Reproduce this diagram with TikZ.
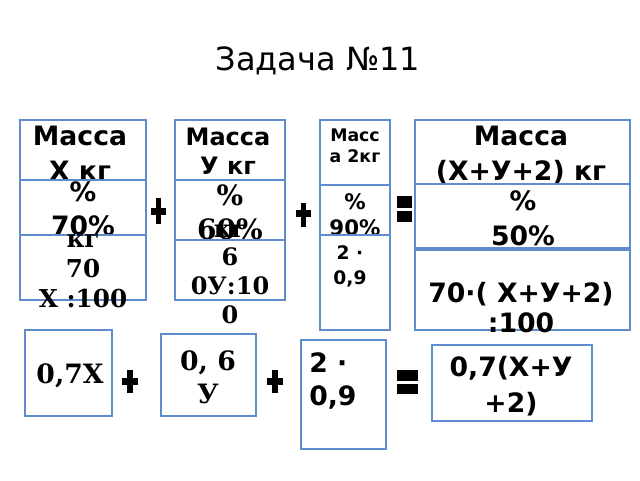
\documentclass[tikz,border=0pt]{standalone}
\usepackage{fontspec}
\setmainfont{DejaVu Sans}
\newfontfamily\serifbold{DejaVu Serif}
\usepackage{xcolor}
\usepackage{tikz}

\definecolor{boxblue}{RGB}{95,140,205}
\tikzset{
  cell/.style={draw=boxblue, line width=1.4pt, fill=white},
  txt/.style 2 args={inner sep=0pt, align=center, font=\bfseries\fontsize{#1}{#2}\selectfont},
  stxt/.style 2 args={inner sep=0pt, align=center, font=\serifbold\bfseries\fontsize{#1}{#2}\selectfont},
}

\begin{document}
\begin{tikzpicture}[x=0.75pt,y=0.75pt,yscale=-1,xscale=1]
	\useasboundingbox (0,0) rectangle (640,480);
	
	% Text Node
	\draw (318,61) node [inner sep=0pt, font=\fontsize{24}{28}\selectfont] (title) {Задача №11};
	
	%Shape: Rectangle 
	\draw [cell] (20,120) rectangle (146,180);
	% Text Node
	\draw (80,153) node [txt={20}{26}] (massx) {Масса\\ X кг};
	%Shape: Rectangle 
	\draw [cell] (20,180) rectangle (146,235);
	% Text Node
	\draw (83,209) node [txt={20}{25.5}] (pctx) {\%\\70\%};
	%Shape: Rectangle 
	\draw [cell] (20,235) rectangle (146,300);
	% Text Node
	\draw (83,271) node [stxt={18.5}{22.5}] (kgx) {кг\\70\\X :100};
	
	%Shape: Rectangle 
	\draw [cell] (175,120) rectangle (285,180);
	% Text Node
	\draw (228,151) node [txt={18}{21.75}] (massy) {Масса\\У кг};
	%Shape: Rectangle 
	\draw [cell] (175,180) rectangle (285,240);
	% Text Node
	\draw (230,212) node [stxt={21}{25.5}] (pcty) {\%\\60\%};
	%Shape: Rectangle 
	\draw [cell] (175,240) rectangle (285,300);
	% Text Node
	\draw (230,274) node [stxt={18}{21.5}] (kgy) {кг\\6\\0У:10\\0};
	
	%Shape: Rectangle 
	\draw [cell] (320,120) rectangle (390,185);
	% Text Node
	\draw (355,146) node [txt={13}{15.75}] (masstwo) {Масс\\а 2кг};
	%Shape: Rectangle 
	\draw [cell] (320,185) rectangle (390,235);
	% Text Node
	\draw (355,215) node [txt={16}{19.5}] (pcttwo) {\%\\90\%};
	%Shape: Rectangle 
	\draw [cell] (320,235) rectangle (390,330);
	% Text Node
	\draw (350,266) node [txt={14}{18.75}] (kgtwo) {2 ·\\0,9};
	
	%Shape: Rectangle 
	\draw [cell] (415,120) rectangle (630,184);
	% Text Node
	\draw (521,155) node [txt={20}{26}] (masssum) {Масса\\(X+У+2) кг};
	%Shape: Rectangle 
	\draw [cell] (415,184) rectangle (630,248);
	% Text Node
	\draw (523,218) node [txt={20}{26}] (pctsum) {\%\\50\%};
	%Shape: Rectangle 
	\draw [cell] (415,250) rectangle (630,330);
	% Text Node
	\draw (521,308) node [txt={20}{22.5}] (kgsum) {70·( X+У+2)\\:100};
	
	%Shape: Rectangle 
	\draw [cell] (25,330) rectangle (112,416);
	% Text Node
	\draw (70,376) node [stxt={20}{25}] (resx) {0,7X};
	%Shape: Rectangle 
	\draw [cell] (161,334) rectangle (256,416);
	% Text Node
	\draw (208,377) node [stxt={20}{24.75}] (resy) {0, 6\\У};
	%Shape: Rectangle 
	\draw [cell] (301,340) rectangle (386,449);
	% Text Node
	\draw (309,352) node [txt={20}{24.75}, anchor=north west, align=left] (restwo) {2 ·\\0,9};
	%Shape: Rectangle 
	\draw [cell] (432,345) rectangle (592,421);
	% Text Node
	\draw (511,386) node [txt={20}{27}] (ressum) {0,7(X+У\\+2)};
	
	%Plus and equal signs 
	\fill (156,198) rectangle (161,224);
	\fill (151,208) rectangle (166,215);
	\fill (301,203) rectangle (306,227);
	\fill (296,210) rectangle (311,217);
	\fill (397,196) rectangle (412,208);
	\fill (397,211) rectangle (412,222);
	\fill (127,370) rectangle (133,393);
	\fill (122,378) rectangle (138,385);
	\fill (272,370) rectangle (278,393);
	\fill (267,378) rectangle (283,385);
	\fill (397,370) rectangle (418,381);
	\fill (397,384) rectangle (418,394);
\end{tikzpicture}
\end{document}
